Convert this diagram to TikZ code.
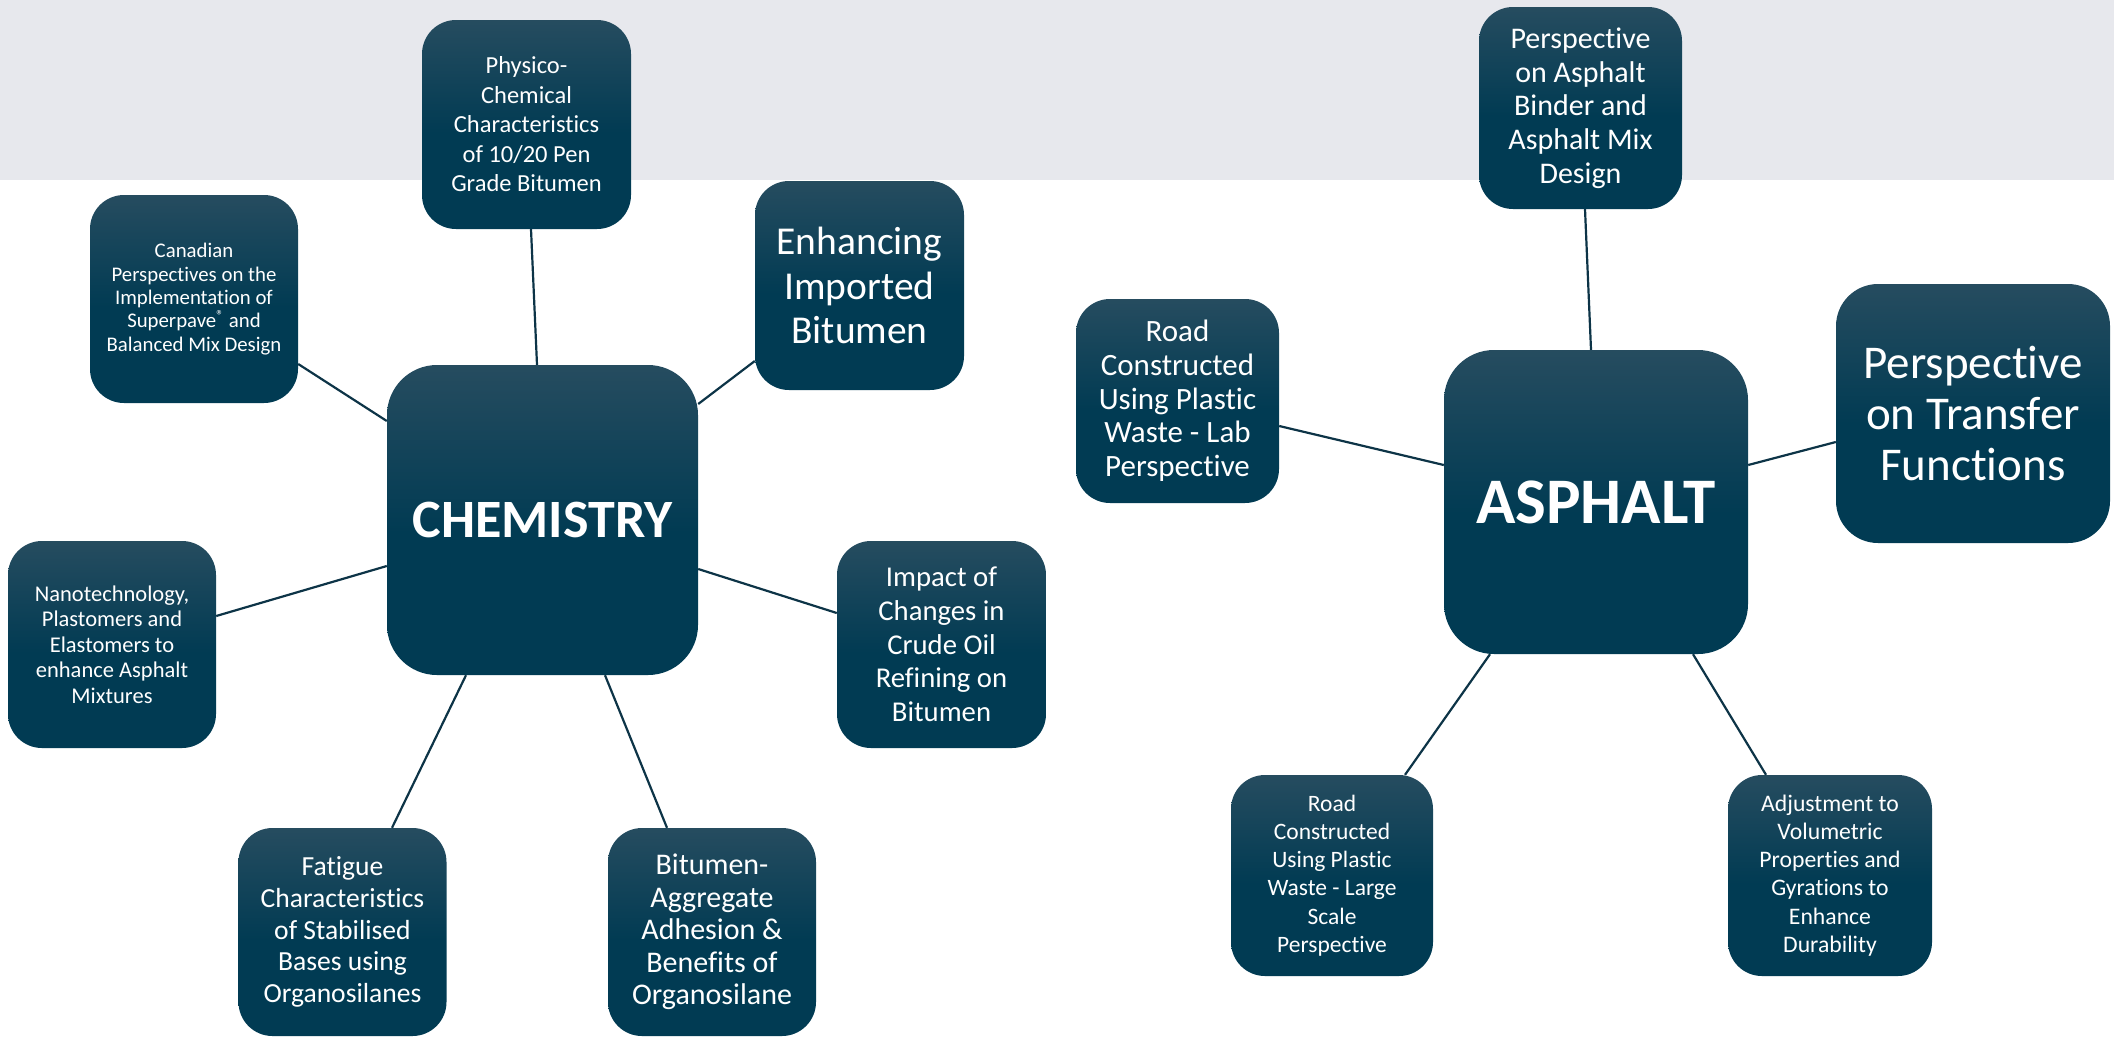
\documentclass[tikz,border=0pt]{standalone}
\usepackage{fontspec}
\setmainfont{Carlito}[Ligatures={NoCommon}]
\usetikzlibrary{calc}
\definecolor{blight}{HTML}{485C6B}
\definecolor{bdark}{HTML}{013B53}
\definecolor{bandgray}{HTML}{E7E8ED}
\definecolor{linkcol}{HTML}{0D3447}
\pgfdeclareverticalshading{boxsh}{100bp}{color(0bp)=(bdark); color(48bp)=(bdark); color(100bp)=(blight)}
\newcommand{\fs}[2]{\fontsize{#1}{#2}\selectfont}
\tikzset{
  topic/.style={rectangle, rounded corners=34pt, shading=boxsh, text=white, align=center, inner sep=0pt, minimum width=208pt, minimum height=208pt},
  hub/.style={topic, rounded corners=50pt, minimum width=310pt, minimum height=310pt},
  link/.style={draw=linkcol, line width=2.2pt}
}
\begin{document}
\begin{tikzpicture}[x=1pt,y=-1pt]
\useasboundingbox (0,0) rectangle (2114,1037);
\fill[bandgray] (0,0) rectangle (2114,180);

% CHEMISTRY cluster
\node[hub, minimum width=311pt, minimum height=310pt, font=\fs{54}{64}\bfseries] (chem) at (542.5,520) {CHEMISTRY};
\node[topic, minimum width=209pt, minimum height=209pt, font=\fs{24.5}{29.5}] (phys) at (526.5,124.5) {Physico-\\Chemical\\Characteristics\\of 10/20 Pen\\Grade Bitumen};
\node[topic, font=\fs{20.8}{23.3}] (canad) at (194,299) {Canadian\\Perspectives on the\\Implementation of\\Superpave\textsuperscript{®} and\\Balanced Mix Design};
\node[topic, minimum width=209pt, minimum height=209pt, font=\fs{39.5}{44.5}] (enh) at (859.5,285.5) {Enhancing\\Imported\\Bitumen};
\node[topic, minimum height=207pt, font=\fs{22.5}{25.4}] (nano) at (112,644.5) {Nanotechnology,\\Plastomers and\\Elastomers to\\enhance Asphalt\\Mixtures};
\node[topic, minimum width=209pt, minimum height=207pt, font=\fs{28.7}{33.7}] (impact) at (941.5,644.5) {Impact of\\Changes in\\Crude Oil\\Refining on\\Bitumen};
\node[topic, font=\fs{27.6}{31.7}] (fatigue) at (342.5,932) {Fatigue\\Characteristics\\of Stabilised\\Bases using\\Organosilanes};
\node[topic, font=\fs{30}{32.4}] (bitagg) at (712,932) {Bitumen-\\Aggregate\\Adhesion \&\\Benefits of\\Organosilane};

% ASPHALT cluster
\node[hub, minimum width=304pt, minimum height=304pt, font=\fs{65}{78}\bfseries] (asph) at (1596,502) {ASPHALT};
\node[topic, minimum width=203pt, minimum height=202pt, font=\fs{30}{33.7}] (pab) at (1580.5,108) {Perspective\\on Asphalt\\Binder and\\Asphalt Mix\\Design};
\node[topic, minimum width=203pt, minimum height=204pt, font=\fs{31}{33.7}] (rlab) at (1177.5,401) {Road\\Constructed\\Using Plastic\\Waste - Lab\\Perspective};
\node[topic, rounded corners=42pt, minimum width=274pt, minimum height=259pt, font=\fs{47}{51}] (trans) at (1973,413.5) {Perspective\\on Transfer\\Functions};
\node[topic, minimum width=202pt, minimum height=201pt, font=\fs{23.5}{28.3}] (rlarge) at (1332,875.5) {Road\\Constructed\\Using Plastic\\Waste - Large\\Scale\\Perspective};
\node[topic, minimum width=204pt, minimum height=201pt, font=\fs{23.7}{28.3}] (adj) at (1830,875.5) {Adjustment to\\Volumetric\\Properties and\\Gyrations to\\Enhance\\Durability};

% connectors
\draw[link] ($(phys.south)+(4.5,0)$) -- ($(chem.north)+(-5.5,0)$);
\draw[link] ($(canad.east)+(0,65)$) -- ($(chem.west)+(0,-99)$);
\draw[link] ($(enh.west)+(0,75.5)$) -- ($(chem.east)+(0,-116)$);
\draw[link] ($(nano.east)+(0,-28.5)$) -- ($(chem.west)+(0,46)$);
\draw[link] ($(impact.west)+(0,-31.5)$) -- ($(chem.east)+(0,49)$);
\draw[link] ($(fatigue.north)+(49.5,0)$) -- ($(chem.south)+(-76.5,0)$);
\draw[link] ($(bitagg.north)+(-45,0)$) -- ($(chem.south)+(62.5,0)$);

\draw[link] ($(pab.south)+(4.5,0)$) -- ($(asph.north)+(-5,0)$);
\draw[link] ($(rlab.east)+(0,25)$) -- ($(asph.west)+(0,-37)$);
\draw[link] ($(trans.west)+(0,28.5)$) -- ($(asph.east)+(0,-37)$);
\draw[link] ($(rlarge.north)+(73,0)$) -- ($(asph.south)+(-106,0)$);
\draw[link] ($(adj.north)+(-64,0)$) -- ($(asph.south)+(97,0)$);
\end{tikzpicture}
\end{document}
